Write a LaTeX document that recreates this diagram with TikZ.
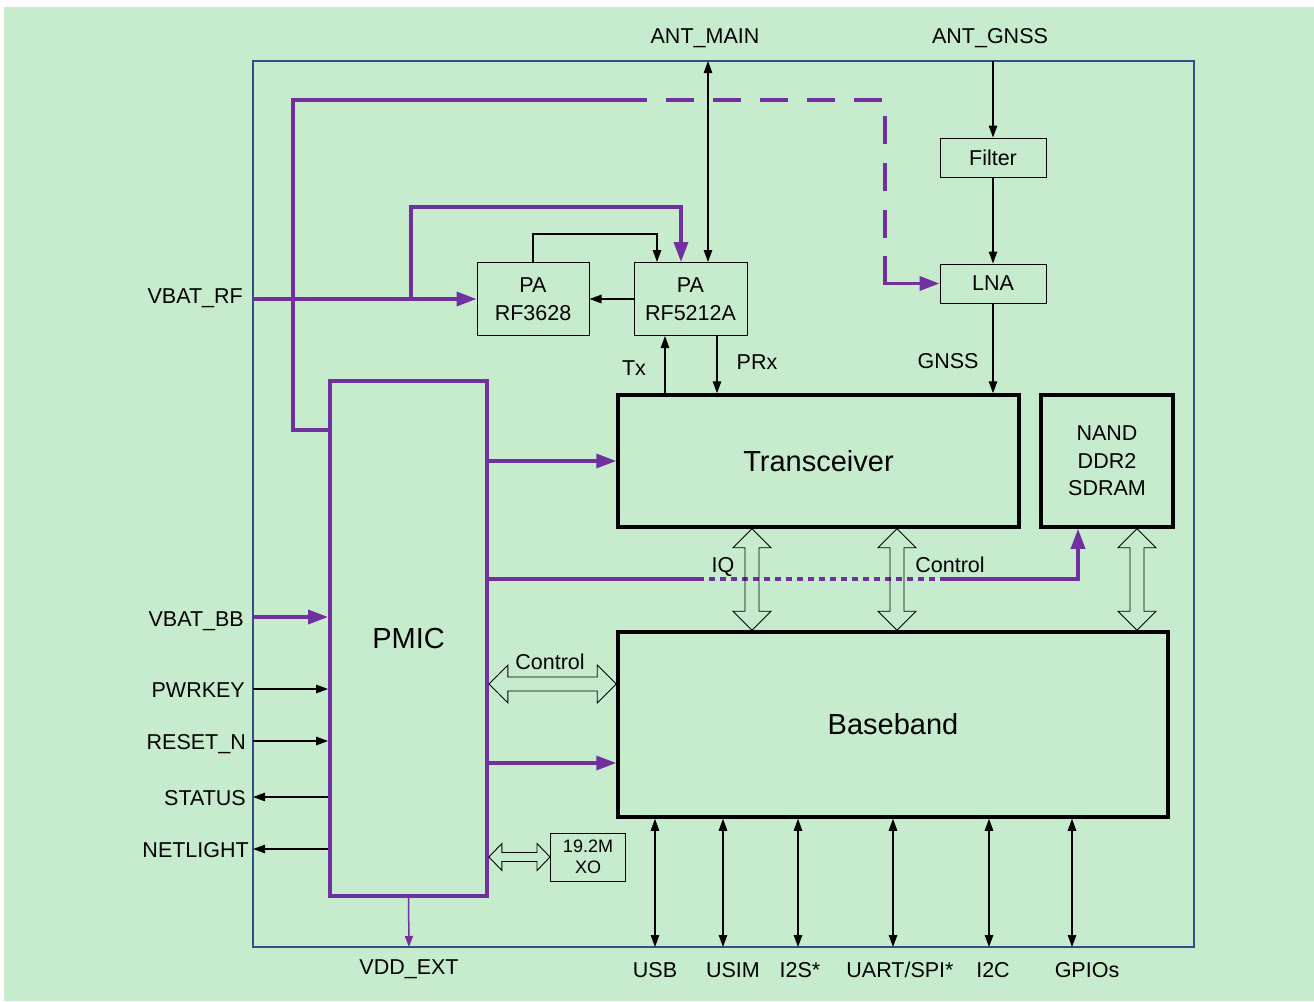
\documentclass[tikz,border=0pt]{standalone}
\usepackage{fontspec}
\setmainfont{Liberation Sans}
\usetikzlibrary{arrows.meta,calc}
\definecolor{bg}{RGB}{199,236,205}
\definecolor{pur}{RGB}{112,48,160}
\definecolor{frm}{RGB}{47,79,134}
\newcommand{\lblfont}{\fontsize{21.5}{27.5}\selectfont}
\newcommand{\bigfont}{\fontsize{29}{35}\selectfont}
\newcommand{\xofont}{\fontsize{18}{21}\selectfont}
\newcommand{\hollowdbl}[5]{%
  \path (#1) coordinate (ha) (#2) coordinate (hb);
  \path ($(ha)!#3!(hb)$) coordinate (haa) ($(hb)!#3!(ha)$) coordinate (hbb);
  \draw[hollow] (ha) -- ($(haa)!#4!90:(hb)$) -- ($(haa)!#5!90:(hb)$) -- ($(hbb)!#5!-90:(ha)$) -- ($(hbb)!#4!-90:(ha)$) -- (hb) -- ($(hbb)!#4!90:(ha)$) -- ($(hbb)!#5!90:(ha)$) -- ($(haa)!#5!-90:(hb)$) -- ($(haa)!#4!-90:(hb)$) -- cycle;
}
\tikzset{
  box/.style={draw=black, line width=1pt, inner sep=0pt, align=center, font=\lblfont},
  bigbox/.style={draw=black, line width=3.5pt, inner sep=0pt, align=center, font=\bigfont},
  pmicbox/.style={draw=pur, line width=3.8pt, inner sep=0pt, align=center, font=\bigfont},
  xobox/.style={draw=black, line width=1pt, inner sep=0pt, align=center, font=\xofont},
  lbl/.style={font=\lblfont, inner sep=0pt},
  tarr/.style={draw=black, line width=1.2pt, -{Triangle[length=12pt,width=8.5pt]}},
  tdbl/.style={draw=black, line width=1.2pt, {Triangle[length=12pt,width=8.5pt]}-{Triangle[length=12pt,width=8.5pt]}},
  pline/.style={draw=pur, line width=3.5pt},
  parr/.style={draw=pur, line width=3.5pt, -{Triangle[length=20pt,width=14pt]}},
  pthin/.style={draw=pur, line width=1.5pt, -{Triangle[length=11pt,width=8pt]}},
  hollow/.style={draw=black, line width=0.9pt, line join=miter},
  frame/.style={draw=frm, line width=1.3pt},
}
\begin{document}
\begin{tikzpicture}[x=1pt,y=-1pt]
\useasboundingbox (0,0) rectangle (1314,1001);
\fill[bg] (4,7) rectangle (1314,1001);
\draw[frame] (253,61) rectangle (1194,947);

% blocks
\node[box, minimum width=106pt, minimum height=39pt] (filter) at (993,157.5) {Filter};
\node[box, minimum width=106pt, minimum height=39pt] (lna) at (993,283.5) {LNA};
\node[box, minimum width=112pt, minimum height=73pt] (pa1) at (533,299) {PA\\RF3628};
\node[box, minimum width=113pt, minimum height=73pt] (pa2) at (690.5,299) {PA\\RF5212A};
\node[bigbox, minimum width=401pt, minimum height=132pt] (trx) at (818.5,461) {Transceiver};
\node[bigbox, font=\lblfont, minimum width=132pt, minimum height=132pt] (nand) at (1107,461) {NAND\\DDR2\\SDRAM};
\node[bigbox, minimum width=550pt, minimum height=185pt] (bb) at (893,724.5) {Baseband};
\node[pmicbox, minimum width=157pt, minimum height=515pt] (pmic) at (408.5,638.5) {PMIC};
\node[xobox, minimum width=75pt, minimum height=48pt] (xo) at (588,857) {19.2M\\XO};

% labels
\node[lbl, anchor=base] (lantm) at (705,43) {ANT\_MAIN};
\node[lbl, anchor=base] (lantg) at (990,43) {ANT\_GNSS};
\node[lbl, anchor=base east] (lvrf) at (243,303) {VBAT\_RF};
\node[lbl, anchor=base] (ltx) at (634,375) {Tx};
\node[lbl, anchor=base] (lprx) at (757,369) {PRx};
\node[lbl, anchor=base] (lgnss) at (948,368) {GNSS};
\node[lbl, anchor=base] (liq) at (723,572) {IQ};
\node[lbl, anchor=base] (lctl1) at (950,572) {Control};
\node[lbl, anchor=base] (lctl2) at (550,669) {Control};
\node[lbl, anchor=base east] (lvbb) at (244,626) {VBAT\_BB};
\node[lbl, anchor=base east] (lpwr) at (245,697) {PWRKEY};
\node[lbl, anchor=base east] (lrst) at (246,749) {RESET\_N};
\node[lbl, anchor=base east] (lsta) at (246,805) {STATUS};
\node[lbl, anchor=base east] (lnet) at (249,857) {NETLIGHT};
\node[lbl, anchor=base] (lvdd) at (409,974) {VDD\_EXT};
\node[lbl, anchor=base] (lusb) at (655,977) {USB};
\node[lbl, anchor=base] (lusim) at (733,977) {USIM};
\node[lbl, anchor=base] (li2s) at (800,977) {I2S*};
\node[lbl, anchor=base] (luart) at (900,977) {UART/SPI*};
\node[lbl, anchor=base] (li2c) at (993,977) {I2C};
\node[lbl, anchor=base] (lgpio) at (1087,977) {GPIOs};

% coordinates
\coordinate (antm) at (708,61);
\coordinate (antg) at (993,61);
\coordinate (vrf) at (253,299);
\coordinate (br411) at (411,299);
\coordinate (c681) at (681,207);
\coordinate (c657) at (657,234);
\coordinate (xtx) at (665,0);
\coordinate (xprx) at (717,0);
\coordinate (cpt) at (293,430);
\coordinate (ctop) at (293,100);
\coordinate (csol) at (647,100);
\coordinate (cdash) at (885,100);
\coordinate (cdend) at (885,238);
\coordinate (csol2) at (885,256);
\coordinate (y461) at (0,461);
\coordinate (y579) at (0,579);
\coordinate (d1) at (698,579);
\coordinate (d2) at (945,579);
\coordinate (c1078) at (1078,579);
\coordinate (h1) at (752,0);
\coordinate (h2) at (897,0);
\coordinate (h3) at (1137,0);
\coordinate (hy1) at (0,684);
\coordinate (y763) at (0,763);
\coordinate (vbb) at (253,617);
\coordinate (pwr) at (253,689);
\coordinate (rst) at (253,741);
\coordinate (sta) at (253,797);
\coordinate (net) at (253,849);
\coordinate (vdd) at (409,947);
\coordinate (busb) at (655,947);
\coordinate (busim) at (723,947);
\coordinate (bi2s) at (798,947);
\coordinate (buart) at (893,947);
\coordinate (bi2c) at (989,947);
\coordinate (bgpio) at (1072,947);

% antenna paths
\draw[tdbl] (antm) -- (antm |- pa2.north);
\draw[tarr] (antg) -- (filter.north);
\draw[tarr] (filter.south) -- (lna.north);
\draw[tarr] (lna.south) -- (trx.north -| lna.south);

% PA area
\draw[parr] (vrf) -- (pa1.west);
\draw[parr] (br411) |- (c681) -- (pa2.north -| c681);
\draw[tarr] (pa1.north) |- (c657) -- (pa2.north -| c657);
\draw[tarr] (pa2.west) -- (pa1.east);
\draw[tarr] (trx.north -| xtx) -- (pa2.south -| xtx);
\draw[tarr] (pa2.south -| xprx) -- (trx.north -| xprx);

% purple supply to LNA
\draw[pline] (pmic.west |- cpt) -- (cpt) -- (ctop) -- (csol);
\draw[pline, dash pattern=on 28pt off 19pt, dash phase=28pt] (csol) -- (cdash) -- (cdend);
\draw[parr] (csol2) -- (csol2 |- lna.west) -- (lna.west);

% PMIC outputs
\draw[parr] (pmic.east |- y461) -- (trx.west |- y461);
\draw[pline] (pmic.east |- y579) -- (d1);
\draw[pline, dash pattern=on 6pt off 5pt] (d1) -- (d2);
\draw[parr] (d2) -- (c1078) -- (nand.south -| c1078);
\draw[parr] (pmic.east |- y763) -- (bb.west |- y763);
\draw[pthin] (pmic.south) -- (vdd);

% hollow double arrows
\hollowdbl{trx.south -| h1}{bb.north -| h1}{19pt}{19pt}{7pt}
\hollowdbl{trx.south -| h2}{bb.north -| h2}{19pt}{19pt}{7pt}
\hollowdbl{nand.south -| h3}{bb.north -| h3}{19pt}{19pt}{7pt}
\hollowdbl{pmic.east |- hy1}{bb.west |- hy1}{19pt}{19pt}{7pt}
\hollowdbl{pmic.east |- xo.west}{xo.west}{13pt}{13.5pt}{4.5pt}

% left side signals
\draw[parr] (vbb) -- (pmic.west |- vbb);
\draw[tarr] (pwr) -- (pmic.west |- pwr);
\draw[tarr] (rst) -- (pmic.west |- rst);
\draw[tarr] (pmic.west |- sta) -- (sta);
\draw[tarr] (pmic.west |- net) -- (net);

% bottom interfaces
\draw[tdbl] (bb.south -| busb) -- (busb);
\draw[tdbl] (bb.south -| busim) -- (busim);
\draw[tdbl] (bb.south -| bi2s) -- (bi2s);
\draw[tdbl] (bb.south -| buart) -- (buart);
\draw[tdbl] (bb.south -| bi2c) -- (bi2c);
\draw[tdbl] (bb.south -| bgpio) -- (bgpio);
\end{tikzpicture}
\end{document}
